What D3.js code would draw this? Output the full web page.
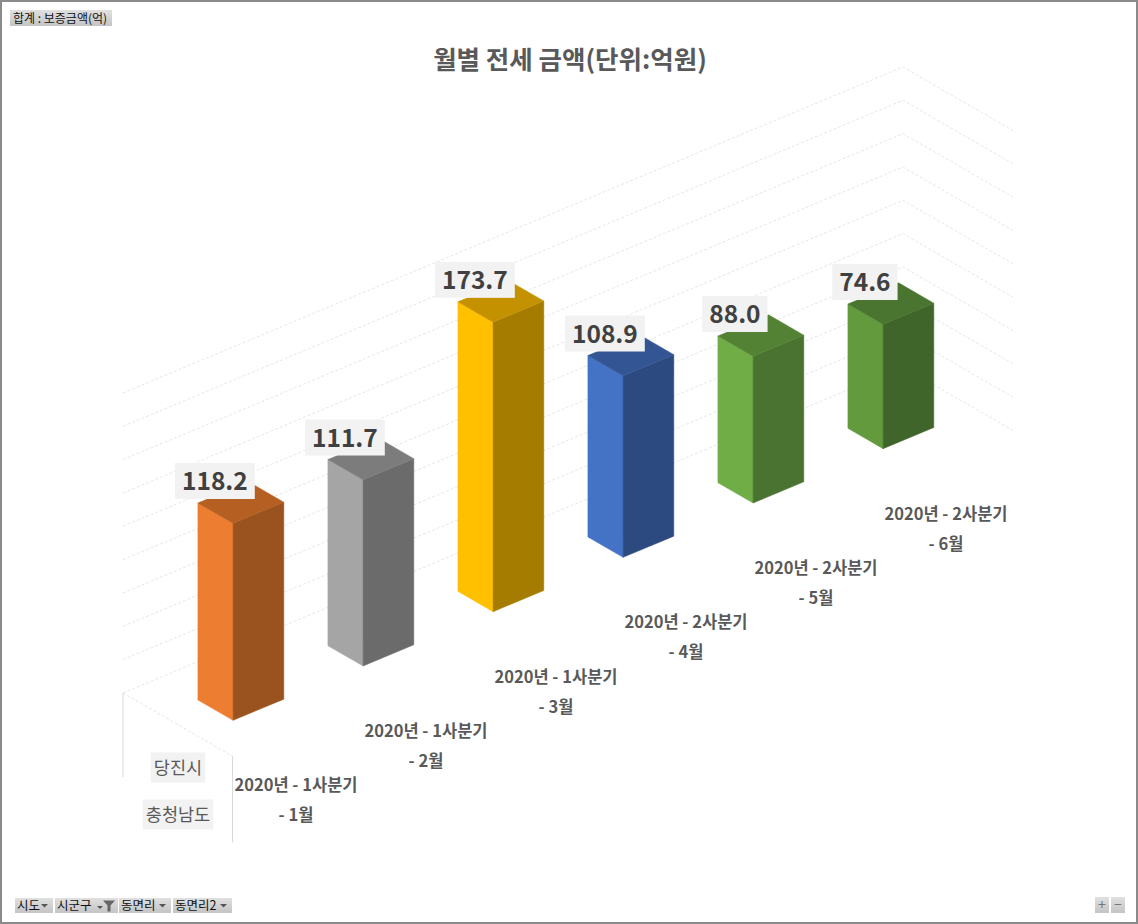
<!DOCTYPE html>
<html><head><meta charset="utf-8">
<script src="https://cdn.jsdelivr.net/npm/d3@7"></script>
<style>
html,body{margin:0;padding:0;background:#fff;}
svg{display:block;}
text{font-family:"Noto Sans CJK KR","Noto Sans",sans-serif;}
</style></head><body>
<svg id="chart" width="1138" height="924"></svg>
<script>
// ---- data ----
const chartTitle = "월별 전세 금액(단위:억원)";
const quarterLabels = ["2020년 - 1사분기","2020년 - 1사분기","2020년 - 1사분기","2020년 - 2사분기","2020년 - 2사분기","2020년 - 2사분기"];
const monthLabels = ["- 1월","- 2월","- 3월","- 4월","- 5월","- 6월"];
const values = [118.2, 111.7, 173.7, 108.9, 88.0, 74.6];
const outerLabels = ["당진시","충청남도"];
const valueTicks = [0,20,40,60,80,100,120,140,160,180];
const fieldButtonLabel = "합계 : 보증금액(억)";
const axisButtons = ["시도","시군구","동면리","동면리2"];

// ---- styles ----
const barColors = [
  {left:"#ED7D31", top:"#B55F23", right:"#9A521F"},
  {left:"#A5A5A5", top:"#7C7C7C", right:"#6B6B6B"},
  {left:"#FFC000", top:"#C49200", right:"#A67C00"},
  {left:"#4472C4", top:"#335594", right:"#2C4A80"},
  {left:"#70AD47", top:"#548235", right:"#4A7230"},
  {left:"#639A3E", top:"#4A7530", right:"#40652A"}
];

const svg = d3.select("#chart");
const W = 1138, H = 924;

// frame
svg.append("rect").attr("x",1).attr("y",1).attr("width",W-2).attr("height",H-2)
  .attr("fill","#fff").attr("stroke","#8a8a8a").attr("stroke-width",2);

// ---- 3D oblique projection built from scales ----
const nCat = values.length;
const catX = d3.scaleLinear().domain([0,nCat]).range([123, 903]);
const catY = d3.scaleLinear().domain([0,nCat]).range([693, 367]);
const depX = d3.scaleLinear().domain([0,1]).range([0,110]);
const depY = d3.scaleLinear().domain([0,1]).range([0,63.5]);
const valY = d3.scaleLinear().domain([0,180]).range([0,300]);
function P(c, v, d){ return [catX(c)+depX(d), catY(c)+depY(d)-valY(v)]; }
const line = d3.line();

// gridlines: back wall and side wall
const grid = svg.append("g").attr("fill","none").attr("stroke","#E3E3E3")
  .attr("stroke-width",0.9).attr("stroke-dasharray","3,2");
valueTicks.forEach(v=>{
  grid.append("path").attr("d", line([P(0,v,0), P(nCat,v,0), P(nCat,v,1)]));
});
// floor left edge
grid.append("path").attr("d", line([P(0,0,0), P(0,0,1)]));

// multi-level axis separators
const sep = svg.append("g").attr("stroke","#D9D9D9").attr("stroke-width",1);
const a0 = P(0,0,0), a1 = P(0,0,1);
sep.append("line").attr("x1",a0[0]).attr("x2",a0[0]).attr("y1",a0[1]).attr("y2",a0[1]+84);
sep.append("line").attr("x1",a1[0]-0.5).attr("x2",a1[0]-0.5).attr("y1",a1[1]).attr("y2",a1[1]+86);

// ---- bars ----
const c0off = 0.28, c1off = 0.67, d0 = 0.35, d1 = 0.67;
const bars = svg.append("g");
const order = d3.range(nCat).reverse();
order.forEach(i=>{
  const v = values[i], col = barColors[i];
  const c0 = i + c0off, c1 = i + c1off;
  const g = bars.append("g");
  g.append("path").attr("fill",col.left).attr("stroke",col.left).attr("stroke-width",0.5)
    .attr("d", line([P(c0,0,d0),P(c0,0,d1),P(c0,v,d1),P(c0,v,d0)])+"Z");
  g.append("path").attr("fill",col.right).attr("stroke",col.right).attr("stroke-width",0.5)
    .attr("d", line([P(c0,0,d1),P(c1,0,d1),P(c1,v,d1),P(c0,v,d1)])+"Z");
  g.append("path").attr("fill",col.top).attr("stroke",col.top).attr("stroke-width",0.5)
    .attr("d", line([P(c0,v,d0),P(c0,v,d1),P(c1,v,d1),P(c1,v,d0)])+"Z");
});

// ---- value labels ----
const lbl = svg.append("g");
values.forEach((v,i)=>{
  const p = P(i + c0off, v, d0);
  const cx = p[0] + 17, cy = p[1] - 22;
  const g = lbl.append("g");
  const r = g.append("rect").attr("fill","#F2F2F2");
  const t = g.append("text").attr("x",cx).attr("y",cy+9).attr("text-anchor","middle")
    .attr("font-size",24.5).attr("font-weight","bold").attr("fill","#404040").text(v.toFixed(1));
  const w = t.node().getComputedTextLength() + 14;
  r.attr("x",cx-w/2).attr("y",cy-18).attr("width",w).attr("height",36);
});

// ---- category labels ----
const cl = svg.append("g").attr("font-size",16.5).attr("font-weight","bold").attr("fill","#595959").attr("text-anchor","middle");
values.forEach((v,i)=>{
  const p = P(i+0.5, 0, 1);
  cl.append("text").attr("x",p[0]-2).attr("y",p[1]+62).text(quarterLabels[i]);
  cl.append("text").attr("x",p[0]-2).attr("y",p[1]+92).text(monthLabels[i]);
});

// outer labels (시군구 / 시도)
const ol = svg.append("g");
const ox = (a0[0]+a1[0])/2;
[[outerLabels[0], a1[1]+11], [outerLabels[1], a1[1]+58]].forEach(([txt, cy])=>{
  const t = ol.append("text").attr("x",ox).attr("y",cy+6.5).attr("text-anchor","middle")
    .attr("font-size",17.5).attr("fill","#595959").text(txt);
  const w = t.node().getComputedTextLength()+6;
  ol.insert("rect","text").attr("x",ox-w/2).attr("y",cy-15).attr("width",w).attr("height",30).attr("fill","#F2F2F2");
});

// ---- title ----
svg.append("text").attr("x",570).attr("y",69).attr("text-anchor","middle")
  .attr("font-size",25.5).attr("font-weight","bold").attr("fill","#595959").text(chartTitle);

// ---- pivot buttons ----
const defs = svg.append("defs");
const gr = defs.append("linearGradient").attr("id","btn").attr("x1",0).attr("x2",0).attr("y1",0).attr("y2",1);
gr.append("stop").attr("offset","0%").attr("stop-color","#e0e0e0");
gr.append("stop").attr("offset","100%").attr("stop-color","#c4c4c4");

const fb = svg.append("g");
fb.append("rect").attr("x",10).attr("y",10).attr("width",102).attr("height",16).attr("fill","url(#btn)");
fb.append("text").attr("x",13).attr("y",22.5).attr("font-size",12).attr("fill","#111").text(fieldButtonLabel);

const btnX = [[15,53],[55,118],[119,171],[173,232]];
const bb = svg.append("g");
axisButtons.forEach((name,i)=>{
  const [x0,x1] = btnX[i];
  bb.append("rect").attr("x",x0).attr("y",898).attr("width",x1-x0).attr("height",15).attr("fill","url(#btn)");
  bb.append("text").attr("x",x0+2).attr("y",910).attr("font-size",12.5).attr("fill","#111").text(name);
  if(i===1){
    bb.append("path").attr("d",`M${x1-21},906 l6,0 l-3,3 Z`).attr("fill","#555");
    bb.append("path").attr("d",`M${x1-15},900.5 h12 l-4.5,5 v6 h-3 v-6 Z`).attr("fill","#666");
  } else {
    bb.append("path").attr("d",`M${x1-12},904 l7,0 l-3.5,3.5 Z`).attr("fill","#555");
  }
});
// zoom buttons
const zb = svg.append("g");
[[1095,"+"],[1111,"−"]].forEach(([x,s])=>{
  zb.append("rect").attr("x",x).attr("y",897).attr("width",14).attr("height",16).attr("fill","url(#btn)");
  zb.append("text").attr("x",x+7).attr("y",910).attr("text-anchor","middle").attr("font-size",14).attr("fill","#777").text(s);
});
</script>
</body></html>
